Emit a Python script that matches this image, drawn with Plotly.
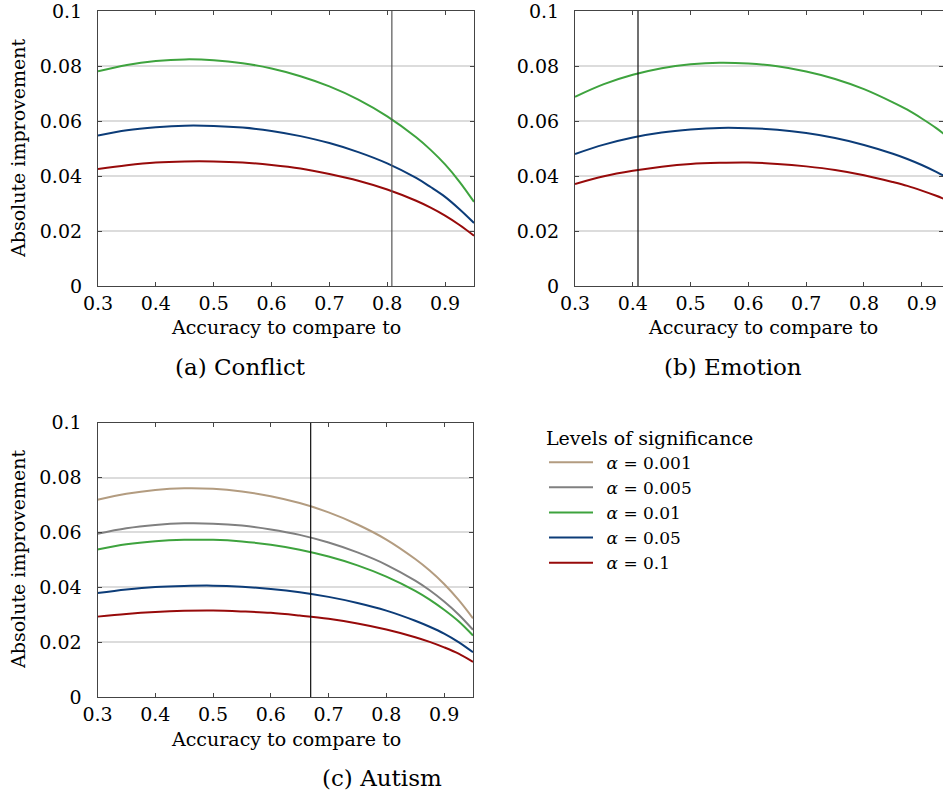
import plotly.graph_objects as go

W, H = 943, 794

# ---------------- data ----------------
acc = [0.30, 0.35, 0.40, 0.45, 0.50, 0.55, 0.60, 0.65, 0.70, 0.75, 0.80, 0.85, 0.875, 0.90, 0.925, 0.95]

conflict_a001 = [0.0781, 0.0804, 0.0818, 0.0824, 0.0821, 0.0810, 0.0791, 0.0763, 0.0726, 0.0678, 0.0617, 0.0541, 0.0495, 0.0442, 0.0379, 0.0306]
conflict_a005 = [0.0547, 0.0566, 0.0577, 0.0583, 0.0582, 0.0576, 0.0564, 0.0545, 0.0520, 0.0487, 0.0446, 0.0393, 0.0360, 0.0324, 0.0279, 0.0229]
conflict_a01 = [0.0425, 0.0439, 0.0449, 0.0453, 0.0453, 0.0449, 0.0440, 0.0427, 0.0407, 0.0383, 0.0351, 0.0310, 0.0285, 0.0256, 0.0222, 0.0183]

emotion_a001 = [0.0688, 0.0734, 0.0768, 0.0792, 0.0806, 0.0812, 0.0809, 0.0799, 0.0780, 0.0753, 0.0716, 0.0668, 0.0641, 0.0609, 0.0574, 0.0534]
emotion_a005 = [0.0480, 0.0514, 0.0540, 0.0558, 0.0569, 0.0575, 0.0574, 0.0568, 0.0556, 0.0538, 0.0513, 0.0481, 0.0462, 0.0440, 0.0415, 0.0387]
emotion_a01 = [0.0371, 0.0399, 0.0419, 0.0434, 0.0444, 0.0448, 0.0449, 0.0444, 0.0435, 0.0422, 0.0403, 0.0378, 0.0364, 0.0347, 0.0328, 0.0307]

autism_a0001 = [0.0719, 0.0741, 0.0755, 0.0761, 0.0759, 0.0749, 0.0732, 0.0707, 0.0673, 0.0629, 0.0574, 0.0503, 0.0461, 0.0412, 0.0354, 0.0287]
autism_a0005 = [0.0595, 0.0615, 0.0627, 0.0633, 0.0632, 0.0625, 0.0611, 0.0591, 0.0563, 0.0527, 0.0482, 0.0424, 0.0389, 0.0348, 0.0301, 0.0245]
autism_a001 = [0.0538, 0.0557, 0.0568, 0.0573, 0.0573, 0.0567, 0.0555, 0.0537, 0.0512, 0.0480, 0.0439, 0.0387, 0.0355, 0.0318, 0.0276, 0.0224]
autism_a005 = [0.0379, 0.0392, 0.0401, 0.0405, 0.0406, 0.0402, 0.0394, 0.0382, 0.0365, 0.0343, 0.0315, 0.0278, 0.0256, 0.0231, 0.0200, 0.0163]
autism_a01 = [0.0293, 0.0303, 0.0310, 0.0314, 0.0315, 0.0312, 0.0307, 0.0297, 0.0285, 0.0268, 0.0246, 0.0218, 0.0201, 0.0181, 0.0158, 0.0128]

baseline_acc = [0.808, 0.409, 0.669]  # conflict, emotion, autism

legend_names = ["\u2002<i>α</i> = 0.001", "\u2002<i>α</i> = 0.005", "\u2002<i>α</i> = 0.01",
                "\u2002<i>α</i> = 0.05", "\u2002<i>α</i> = 0.1"]
panel_captions = ["(a) Conflict", "(b) Emotion", "(c) Autism"]
x_title = "Accuracy to compare to"
y_title = "Absolute improvement"
legend_title = "Levels of significance"

x_tickvals = [0.3, 0.4, 0.5, 0.6, 0.7, 0.8, 0.9]
x_ticktext = ["0.3", "0.4", "0.5", "0.6", "0.7", "0.8", "0.9"]
y_tickvals = [0, 0.02, 0.04, 0.06, 0.08, 0.1]
y_ticktext = ["0", "0.02", "0.04", "0.06", "0.08", "0.1"]

# ---------------- style ----------------
C_TAN = "#b39c80"
C_GRAY = "#808080"
C_GREEN = "#3ea33e"
C_BLUE = "#0c3c78"
C_RED = "#970a0a"
FONT = "DejaVu Serif"
LW = 2

fig = go.Figure()

def add(x, y, color, xa, ya, name=None, show=False):
    fig.add_trace(go.Scatter(
        x=x, y=y, mode="lines", line=dict(color=color, width=LW, shape="spline", smoothing=1.0),
        xaxis=xa, yaxis=ya, name=name, showlegend=show, hoverinfo="skip"))

# (a) Conflict
add(acc, conflict_a001, C_GREEN, "x", "y")
add(acc, conflict_a005, C_BLUE, "x", "y")
add(acc, conflict_a01, C_RED, "x", "y")
# (b) Emotion
add(acc, emotion_a001, C_GREEN, "x2", "y2")
add(acc, emotion_a005, C_BLUE, "x2", "y2")
add(acc, emotion_a01, C_RED, "x2", "y2")
# (c) Autism (legend entries)
autism_series = [autism_a0001, autism_a0005, autism_a001, autism_a005, autism_a01]
autism_colors = [C_TAN, C_GRAY, C_GREEN, C_BLUE, C_RED]
for ys, col, nm in zip(autism_series, autism_colors, legend_names):
    add(acc, ys, col, "x3", "y3", name=nm, show=True)

# vertical reference lines (baseline accuracies)
vcolors = ["#555555", "#111111", "#111111"]
for i, (xv, vc) in enumerate(zip(baseline_acc, vcolors)):
    xr = "x" if i == 0 else f"x{i+1}"
    yr = "y" if i == 0 else f"y{i+1}"
    fig.add_shape(type="line", x0=xv, x1=xv, y0=0, y1=0.1, xref=xr, yref=yr,
                  line=dict(color=vc, width=1.2), layer="above")

def px_x(p):
    return p / W

def px_y(p):
    return 1 - p / H

AX = "#444444"

def xaxis(dom, rng, anchor):
    return dict(domain=dom, range=rng, anchor=anchor, tickvals=x_tickvals, ticktext=x_ticktext,
                ticks="inside", ticklen=4, tickwidth=1, tickcolor=AX,
                showline=True, linecolor=AX, linewidth=1.2, mirror="ticks",
                showgrid=False, zeroline=False, tickfont=dict(family=FONT, size=19, color="black"),
                ticklabelstandoff=0, ticklabeloverflow="allow", automargin=False, fixedrange=True)

def yaxis(dom, anchor):
    return dict(domain=dom, range=[0, 0.1], anchor=anchor, tickvals=y_tickvals, ticktext=y_ticktext,
                ticks="inside", ticklen=4, tickwidth=1, tickcolor=AX,
                showline=True, linecolor=AX, linewidth=1.2, mirror="ticks",
                showgrid=True, gridcolor="#dcdcdc", gridwidth=1.5, zeroline=False,
                tickfont=dict(family=FONT, size=19, color="black"), ticklabelstandoff=11,
                ticklabeloverflow="allow", automargin=False, fixedrange=True)

fig.update_layout(
    template="none",
    width=W, height=H,
    margin=dict(l=0, r=0, t=0, b=0, pad=0, autoexpand=False),
    paper_bgcolor="white", plot_bgcolor="white",
    font=dict(family=FONT, size=19, color="black"),
    xaxis=xaxis([px_x(98), px_x(474)], [0.3, 0.95], "y"),
    yaxis=yaxis([px_y(286), px_y(11)], "x"),
    xaxis2=xaxis([px_x(575), 1.0], [0.3, 0.9367], "y2"),
    yaxis2=yaxis([px_y(286), px_y(11)], "x2"),
    xaxis3=xaxis([px_x(97.5), px_x(473)], [0.3, 0.95], "y3"),
    yaxis3=yaxis([px_y(697), px_y(422.7)], "x3"),
    legend=dict(x=px_x(544), y=px_y(420), xanchor="left", yanchor="top",
                title=dict(text=legend_title, font=dict(family=FONT, size=19)),
                font=dict(family=FONT, size=17), bgcolor="rgba(0,0,0,0)",
                itemwidth=44, tracegroupgap=0, borderwidth=0),
    showlegend=True,
)

ann = []
def text(x, y, s, size=19, angle=0):
    ann.append(dict(x=px_x(x), y=px_y(y), xref="paper", yref="paper", text=s, showarrow=False,
                    font=dict(family=FONT, size=size, color="black"), textangle=angle,
                    xanchor="center", yanchor="middle"))

text(286, 327, x_title)
text(763, 327, x_title)
text(286, 739, x_title)
text(18, 148, y_title, angle=-90)
text(18, 559, y_title, angle=-90)
text(241, 367, panel_captions[0], size=23)
text(733, 367, panel_captions[1], size=23)
text(382, 778, panel_captions[2], size=23)
fig.update_layout(annotations=ann)

fig.write_html("out.html", config={"displayModeBar": False},
               post_script="document.body.style.margin='0px';document.body.style.overflow='hidden';")
